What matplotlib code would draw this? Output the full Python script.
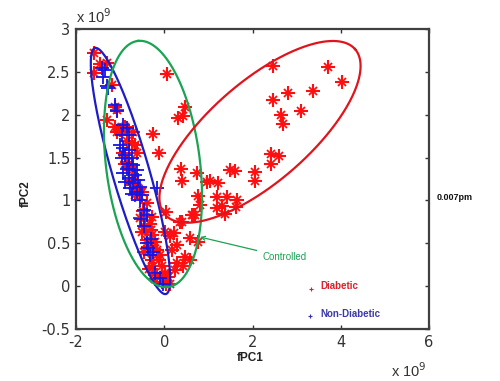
import numpy as np
import matplotlib
matplotlib.use("Agg")
import matplotlib.pyplot as plt

# ---------------- data ----------------
diab_x = [2.47, 3.70, 4.02, 3.36, 2.81, 2.47, 3.10, 2.64, 2.70, 2.41, 2.61, 2.41, 2.06, 2.06,
          -0.26, 0.47, 0.32, 0.43, -0.13, 0.38, 0.735, 0.41, 1.49, 1.60, 1.04, 1.21, 0.77, 0.81,
          1.19, 1.43, 1.64, 1.19, 1.30, 1.63, 0.66, 0.04, 1.38, 0.40, 0.62, 0.21, 0.47, 0.96,
          0.70, 0.36, 0.58, 0.77, 0.28, 0.58, 0.28, 0.24, 0.43, 0.17, 0.02, 0.13, 0.055,
          -1.59, -1.46, -1.30, -1.59, -1.19, -1.12, -1.08, -1.30, -1.12, -1.00, -1.08, -0.70,
          -0.89, -0.85, -0.74, -0.66, -0.62, -0.93, -0.85, -0.81, -0.70, -0.66, -0.74, -0.59,
          -0.51, -0.66, -0.89, -0.74, -0.59, -0.40, -0.55, -0.44, -0.32,
          -0.51, -0.28, -0.40, -0.21, -0.17, -0.28, -0.13, -0.25, -0.06, -0.17, 0.02, -0.06,
          0.09, 0.05, -0.28, -0.48, -0.36, -0.10, 0.12, -0.20, -0.35, -0.45, -0.30]
diab_y = [2.57, 2.56, 2.38, 2.28, 2.25, 2.17, 2.04, 2.00, 1.89, 1.54, 1.52, 1.42, 1.33, 1.23,
          1.78, 2.09, 1.96, 1.98, 1.55, 1.37, 1.32, 1.23, 1.35, 1.34, 1.23, 1.20, 1.05, 0.95,
          1.04, 1.04, 1.00, 0.91, 0.93, 0.92, 0.83, 0.87, 0.84, 0.75, 0.83, 0.62, 0.34, 1.22,
          0.83, 0.75, 0.56, 0.52, 0.48, 0.30, 0.27, 0.19, 0.23, 0.42, 0.63, 0.58, 2.48,
          2.72, 2.59, 2.60, 2.49, 2.35, 2.09, 2.05, 1.94, 1.86, 1.82, 1.80, 1.80,
          1.86, 1.69, 1.67, 1.65, 1.55, 1.55, 1.45, 1.39, 1.35, 1.24, 1.18, 1.14,
          1.10, 1.06, 1.43, 1.24, 1.12, 0.97, 0.79, 0.69, 0.73,
          0.63, 0.60, 0.54, 0.52, 0.42, 0.30, 0.30, 0.23, 0.23, 0.13, 0.15, 0.05,
          0.11, 0.03, 0.81, 0.88, 0.46, 0.36, 0.02, 0.08, 0.20, 0.40, 0.65]

nond_x = [-1.34, -1.38, -1.42, -1.30, -1.27, -1.12, -1.08, -0.93, -0.85, -0.96, -0.81,
          -1.00, -0.93, -0.81, -0.89, -0.96, -0.74, -0.81, -0.70, -0.85, -0.62, -0.93,
          -0.66, -0.81, -0.59, -0.89, -0.70, -0.55, -0.78, -0.62, -0.51, -0.17,
          -0.74, -0.55, -0.47, -0.40, -0.45, -0.36, -0.25, -0.32, -0.30, -0.21, -0.10, -0.02,
          -0.52, -0.38]
nond_y = [2.52, 2.44, 2.54, 2.33, 2.31, 2.11, 2.04, 1.88, 1.84, 1.76, 1.76,
          1.65, 1.61, 1.59, 1.53, 1.49, 1.49, 1.43, 1.41, 1.37, 1.35, 1.32,
          1.30, 1.26, 1.24, 1.22, 1.20, 1.16, 1.14, 1.10, 1.06, 1.15,
          1.08, 1.00, 0.89, 0.83, 0.70, 0.44, 0.40, 0.36, 0.55, 0.15, 0.09, 0.03,
          0.78, 0.50]

# ellipses: centre (data), major half (px), minor half (px), angle (deg, display)
ell_names = ["Non-Diabetic", "Controlled", "Diabetic"]
ell_cx = [-0.765, -0.255, 2.17]
ell_cy = [1.343, 1.425, 1.80]
ell_a = [128, 124, 126]
ell_b = [18.5, 47, 50]
ell_ang = [106.1, 97.0, 41.0]
ell_col = ["#1c1cc8", "#1aa353", "#e0141c"]

xticks = [-2, 0, 2, 4, 6]
yticks = [-0.5, 0, 0.5, 1, 1.5, 2, 2.5, 3]

# ---------------- figure ----------------
W, H = 500, 381
fig = plt.figure(figsize=(W / 100, H / 100), dpi=100)
L, R, T, B = 76, 429, 29, 329
ax = fig.add_axes([L / W, 1 - B / H, (R - L) / W, (B - T) / H])
xmin, xmax, ymin, ymax = -2, 6, -0.5, 3
ax.set_xlim(xmin, xmax)
ax.set_ylim(ymin, ymax)
sx = (R - L) / (xmax - xmin)
sy = (B - T) / (ymax - ymin)

plt.rcParams['font.family'] = ['Liberation Sans', 'DejaVu Sans']

red = "#ff1010"
blue = "#1414e6"
ax.plot(diab_x, diab_y, ls='none', marker='+', ms=10, mew=1.5, color=red)
ax.plot(diab_x, diab_y, ls='none', marker='x', ms=6, mew=1.3, color=red)
ax.plot(nond_x, nond_y, ls='none', marker='+', ms=10.5, mew=1.3, color=blue)

t = np.linspace(0, 2 * np.pi, 400)
for cx, cy, a, b, ang, col in zip(ell_cx, ell_cy, ell_a, ell_b, ell_ang, ell_col):
    th = np.deg2rad(ang)
    px = a * np.cos(t) * np.cos(th) - b * np.sin(t) * np.sin(th)
    py = a * np.cos(t) * np.sin(th) + b * np.sin(t) * np.cos(th)
    ax.plot(cx + px / sx, cy + py / sy, color=col, lw=1.6)

# annotation for Controlled
ax.annotate("Controlled", xy=(0.81, 0.573), xytext=(2.22, 0.34),
            color=ell_col[1], fontsize=7, va='center', ha='left',
            arrowprops=dict(arrowstyle='->', color=ell_col[1], lw=0.9,
                            shrinkA=2, shrinkB=0))

# legend-like labels
ax.plot([3.33], [-0.03], ls='none', marker='+', ms=3, mew=0.8, color=red)
ax.text(3.53, 0.0, "Diabetic", color="#e0202a", fontsize=7, fontweight='bold',
        va='center', ha='left')
ax.plot([3.31], [-0.35], ls='none', marker='+', ms=3, mew=0.8, color="#3030b0")
ax.text(3.53, -0.33, "Non-Diabetic", color="#3a3aa8", fontsize=7, fontweight='bold',
        va='center', ha='left')

ax.set_xticks(xticks)
ax.set_yticks(yticks)
ax.set_xticklabels([f"{v:g}" for v in xticks])
ax.set_yticklabels([f"{v:g}" for v in yticks])
ax.tick_params(direction='in', length=3, width=1, top=True, right=True,
               labelsize=10.5, labelcolor='#333333', color='#333333', pad=4)
for s in ax.spines.values():
    s.set_linewidth(1.6)
    s.set_color('#404040')

fig.text(250 / W, 1 - 358 / H, "fPC1", ha='center', va='center', fontsize=8.5,
         fontweight='bold', color='#222222')
fig.text(26 / W, 1 - 194 / H, "fPC2", ha='center', va='center', fontsize=8.5,
         fontweight='bold', color='#222222', rotation=90)
fig.text(76 / W, 1 - 17 / H, r"x 10$^{9}$", ha='left', va='center', fontsize=10.5,
         color='#333333')
fig.text(427 / W, 1 - 371 / H, r"x 10$^{9}$", ha='right', va='center', fontsize=10.5,
         color='#333333')
fig.text(437 / W, 1 - 198 / H, "0.007pm", ha='left', va='center', fontsize=6.5,
         fontweight='bold', color='#111111')

fig.savefig("out.png", dpi=100)
